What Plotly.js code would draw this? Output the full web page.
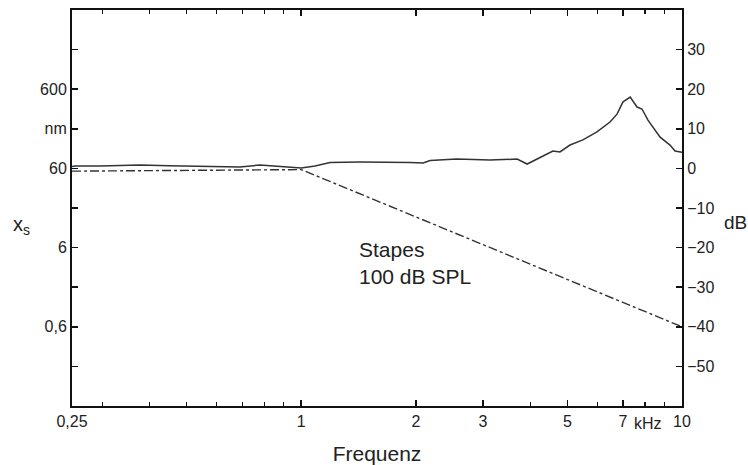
<!DOCTYPE html>
<html>
<head>
<meta charset="utf-8">
<script src="https://cdn.plot.ly/plotly-3.0.1.min.js"></script>
<style>html,body{margin:0;padding:0;background:#fff;}#chart{width:748px;height:465px;}</style>
</head>
<body>
<div id="chart"></div>
<script>
// Measured stapes response (frequency in kHz, level in dB)
var measFreq = [0.25, 0.2546, 0.296, 0.377, 0.45, 0.542, 0.69, 0.779, 0.906, 1.0, 1.087, 1.19, 1.426, 1.71, 1.93, 2.09, 2.18, 2.56, 3.13, 3.69, 3.92, 4.24, 4.58, 4.78, 5.08, 5.49, 5.98, 6.47, 6.75, 7.0, 7.31, 7.62, 7.85, 8.14, 8.76, 9.3, 9.59, 10.0];
var measDb   = [0.5, 0.6, 0.6, 0.85, 0.7, 0.6, 0.35, 0.85, 0.35, 0.1, 0.6, 1.5, 1.6, 1.6, 1.5, 1.35, 2.0, 2.35, 2.1, 2.35, 1.1, 2.75, 4.4, 4.15, 5.9, 7.2, 9.2, 11.7, 13.7, 16.8, 18.0, 15.5, 15.0, 12.2, 7.9, 5.9, 4.4, 4.1];
// Reference (dash-dot) curve
var refFreq = [0.25, 1.0, 10.0];
var refDb   = [-0.7, -0.3, -40];
// Axis ticks
var xTickVals = [0.25, 1, 2, 3, 5, 7, 10];
var xTickText = ["0,25", "1", "2", "3", "5", "7", "10"];
var xMinorVals = [0.3, 0.4, 0.5, 0.6, 0.7, 0.8, 0.9, 4, 6, 8, 9];
var nmTickVals = [0.6, 6, 60, 190, 600];
var nmTickText = ["0,6", "6", "60", "nm", "600"];
var nmMinorVals = [0.19, 1.9, 19, 1900];
var dbTickVals = [-50, -40, -30, -20, -10, 0, 10, 20, 30];

var FAM = "Liberation Sans, Arial, sans-serif";
var font = {family: FAM, size: 16, color: "#222"};
var traces = [
  {x: [0.25, 10], y: [1, 1], yaxis: "y", mode: "lines", line: {width: 0}, hoverinfo: "skip", showlegend: false},
  {x: refFreq, y: refDb, yaxis: "y2", mode: "lines", line: {color: "#333", width: 1.4, dash: "dashdot"}, showlegend: false},
  {x: measFreq, y: measDb, yaxis: "y2", mode: "lines", line: {color: "#333", width: 1.5}, showlegend: false}
];
var layout = {
  width: 748, height: 465,
  margin: {l: 72, r: 66, t: 10, b: 59},
  paper_bgcolor: "#fff", plot_bgcolor: "#fff",
  font: font,
  showlegend: false,
  xaxis: {
    type: "log", range: [Math.log10(0.25), 1],
    tickmode: "array", tickvals: xTickVals, ticktext: xTickText,
    ticks: "inside", ticklen: 6, tickwidth: 1.5, tickcolor: "#111",
    minor: {tickmode: "array", tickvals: xMinorVals, ticks: "inside", ticklen: 4, tickwidth: 1.2, tickcolor: "#111", showgrid: false},
    showline: true, linecolor: "#111", linewidth: 2, mirror: "ticks",
    showgrid: false, zeroline: false, tickfont: font,
    title: {text: "Frequenz", font: {family: FAM, size: 21, color: "#222"}, standoff: 18}
  },
  yaxis: {
    type: "log", range: [Math.log10(0.06), Math.log10(6000)],
    tickmode: "array", tickvals: nmTickVals, ticktext: nmTickText,
    ticks: "inside", ticklen: 6, tickwidth: 1.5, tickcolor: "#111",
    minor: {tickmode: "array", tickvals: nmMinorVals, ticks: "inside", ticklen: 6, tickwidth: 1.5, tickcolor: "#111", showgrid: false},
    showline: true, linecolor: "#111", linewidth: 2,
    showgrid: false, zeroline: false, tickfont: font, fixedrange: true
  },
  yaxis2: {
    overlaying: "y", side: "right", range: [-60, 40],
    tickmode: "array", tickvals: dbTickVals,
    ticks: "inside", ticklen: 6, tickwidth: 1.5, tickcolor: "#111",
    showline: true, linecolor: "#111", linewidth: 2,
    showgrid: false, zeroline: false, tickfont: font
  },
  annotations: [
    {xref: "paper", yref: "paper", x: -0.1, y: 0.455, text: "x<sub>s</sub>", showarrow: false, font: {family: FAM, size: 20, color: "#222"}},
    {xref: "paper", yref: "paper", x: 1.066, y: 0.4646, xanchor: "left", yanchor: "middle", text: "dB", showarrow: false, font: {family: FAM, size: 19, color: "#222"}},
    {xref: "x", yref: "paper", x: Math.log10(7.4), y: -0.043, xanchor: "left", yanchor: "middle", text: "kHz", showarrow: false, font: font},
    {xref: "x", yref: "y2", x: Math.log10(1.40), y: -20.6, xanchor: "left", text: "Stapes", showarrow: false, font: {family: FAM, size: 21, color: "#222"}},
    {xref: "x", yref: "y2", x: Math.log10(1.40), y: -27.4, xanchor: "left", text: "100 dB SPL", showarrow: false, font: {family: FAM, size: 21, color: "#222"}}
  ]
};
Plotly.newPlot("chart", traces, layout, {staticPlot: true, displayModeBar: false});
</script>
</body>
</html>
